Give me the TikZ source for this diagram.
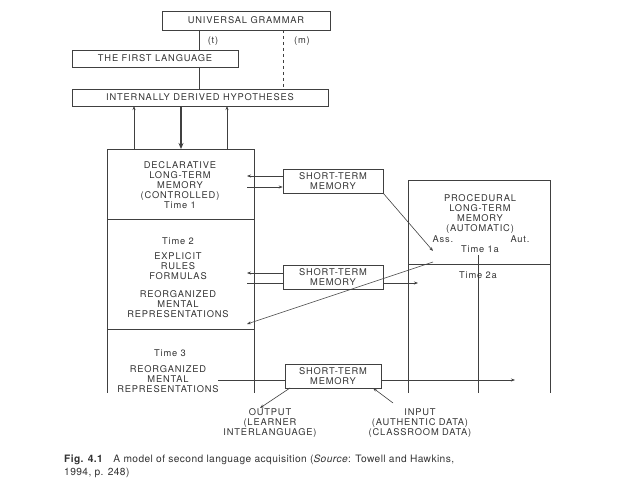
\documentclass[tikz,border=0pt]{standalone}
\usepackage{fontspec}
\setmainfont{TeX Gyre Heros}[LetterSpace=9]
\newfontfamily\capfont{TeX Gyre Heros}[LetterSpace=4]
\usetikzlibrary{arrows.meta}
\begin{document}
\begin{tikzpicture}[x=1pt,y=-1pt,
  ink/.style={draw=black!75,line width=0.6pt},
  bx/.style={ink,inner sep=0pt,text=black!80,font=\fontsize{9.3}{10}\selectfont,align=center},
  tx/.style={inner sep=0pt,text=black!80,font=\fontsize{9.3}{10}\selectfont,align=center},
  arr/.style={ink,-{Stealth[length=4pt,width=3pt]}}]
\useasboundingbox (0,0) rectangle (638,478);
% top boxes
\node[bx,minimum width=168,minimum height=19] (ug) at (246,20.5) {UNIVERSAL GRAMMAR};
\node[bx,minimum width=166,minimum height=17] (fl) at (155,58.5) {THE FIRST LANGUAGE};
\node[bx,minimum width=256,minimum height=17] (idh) at (200,97.5) {INTERNALLY DERIVED HYPOTHESES};
\node[tx] (t) at (213,41) {(t)};
\node[tx] (m) at (302,41) {(m)};
\draw[ink] (199,30) -- (199,50);
\draw[ink] (199,67) -- (199,89);
\draw[ink,dashed] (283,30) -- (283,89);
% left column
\draw[ink] (107,393) -- (107,149) -- (254,149) -- (254,393);
\draw[ink] (107,219) -- (254,219);
\draw[ink] (107,329) -- (254,329);
\draw[arr] (134,149) -- (134,106);
\draw[arr] (227,149) -- (227,106);
\draw[ink,line width=1.3pt,-{Stealth[length=6pt,width=5pt]}] (181,106) -- (181,149);
\node[tx] (decl) at (180,185) {DECLARATIVE\\LONG-TERM\\MEMORY\\(CONTROLLED)\\Time 1};
\node[tx] (t2) at (178,241) {Time 2};
\node[tx] (expl) at (178,266) {EXPLICIT\\RULES\\FORMULAS};
\node[tx] (reo1) at (178,304) {REORGANIZED\\MENTAL\\REPRESENTATIONS};
\node[tx] (t3) at (170,353) {Time 3};
\node[tx] (reo2) at (168,379) {REORGANIZED\\MENTAL\\REPRESENTATIONS};
% right column
\draw[ink] (408,393) -- (408,180) -- (550,180) -- (550,393);
\draw[ink] (408,264) -- (550,264);
\draw[ink] (478,255) -- (478,393);
\node[tx] (proc) at (480,214) {PROCEDURAL\\LONG-TERM\\MEMORY\\(AUTOMATIC)};
\node[tx] (ass) at (443,239) {Ass.};
\node[tx] (aut) at (520,239) {Aut.};
\node[tx] (t1a) at (480,249) {Time 1a};
\node[tx] (t2a) at (478,275) {Time 2a};
% STM boxes
\node[bx,minimum width=100,minimum height=24] (s1) at (333,181) {SHORT-TERM\\MEMORY};
\node[bx,minimum width=100,minimum height=24] (s2) at (333,277) {SHORT-TERM\\MEMORY};
\node[bx,minimum width=96,minimum height=24] (s3) at (333,376) {SHORT-TERM\\MEMORY};
\coordinate (a1) at (247,176);
\coordinate (a2) at (247,187);
\draw[arr] (s1.west |- a1) -- (a1);
\draw[arr] (a2) -- (s1.west |- a2);
\coordinate (p1) at (433,251);
\draw[arr] (s1.south east) -- (p1);
\coordinate (b1) at (247,273);
\coordinate (b2) at (247,283);
\coordinate (b3) at (418,283);
\draw[arr] (s2.west |- b1) -- (b1);
\draw[ink] (b2) -- (s2.west |- b2);
\draw[arr] (s2.east |- b3) -- (b3);
\coordinate (p2) at (433,262);
\coordinate (r1) at (247,324);
\draw[arr] (p2) -- (r1);
\coordinate (c1) at (218,380);
\coordinate (c2) at (515,380);
\draw[ink] (c1) -- (s3.west |- c1);
\draw[arr] (s3.east |- c2) -- (c2);
\node[tx] (out) at (270,423) {OUTPUT\\(LEARNER\\INTERLANGUAGE)};
\node[tx] (in) at (420,423) {INPUT\\(AUTHENTIC DATA)\\(CLASSROOM DATA)};
\coordinate (o1) at (260,408);
\draw[arr] (290,388) -- (o1);
\coordinate (i1) at (393,403);
\draw[arr] (i1) -- (373,388);
% caption
\node[tx,anchor=north west,align=left,font=\capfont\fontsize{10.2}{12.5}\selectfont] (cap) at (64,455)
 {\textbf{Fig. 4.1}\quad A model of second language acquisition (\textit{Source}: Towell and Hawkins,\\1994, p. 248)};
\end{tikzpicture}
\end{document}
